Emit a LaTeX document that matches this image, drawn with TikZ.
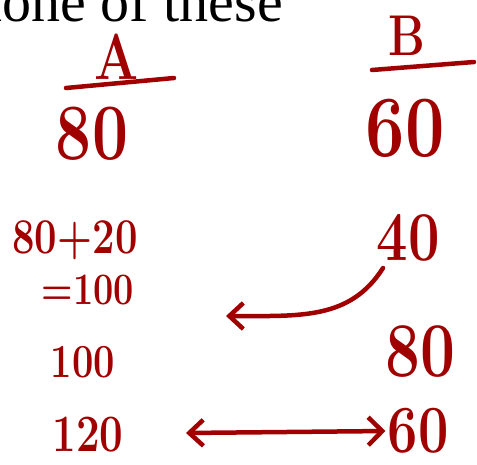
\documentclass[tikz,border=0pt]{standalone}
\usepackage{fontspec}
\newfontfamily\timesfont{Liberation Serif}
\usetikzlibrary{arrows.meta}
\definecolor{inkred}{RGB}{160,0,0}
\newcommand\tallink[1]{\scalebox{1}[1.25]{#1}}
\begin{document}
\begin{tikzpicture}[x=1pt, y=-1pt,
  hand/.style={text=inkred, inner sep=0pt, font=\bfseries\fontsize{#1}{#1}\selectfont},
  hand/.default=60,
  stroke/.style={draw=inkred, line width=4.5pt, line cap=round, line join=round},
  arr/.style={stroke, -{Straight Barb[length=14pt, width=26pt, line width=4.5pt]}},
  dblarr/.style={stroke, {Straight Barb[length=14pt, width=26pt, line width=4.5pt]}-{Straight Barb[length=14pt, width=28pt, line width=4.5pt]}}
]
  \useasboundingbox (0,0) rectangle (477,465);
  % Überschrift (oben abgeschnitten)
  \node[anchor=base east, inner sep=0pt, text depth=0pt, font=\timesfont\fontsize{58}{58}\selectfont] (title) at (283,22) {none of these};
  % Spaltenköpfe
  \node[hand=52] (colA) at (117,57) {\tallink{A}};
  \node[hand=46] (colB) at (407,36) {\tallink{B}};
  \coordinate (ulA1) at (66,88);  \coordinate (ulA2) at (174,78);
  \coordinate (ulB1) at (372,70); \coordinate (ulB2) at (474,62);
  \draw[stroke] (ulA1) -- (ulA2);
  \draw[stroke] (ulB1) -- (ulB2);
  % Werte A
  \node[hand=64] (a80)  at (92,134)  {\tallink{80}};
  \node[hand=40] (asum) at (75,240)  {\tallink{80+20}};
  \node[hand=36] (aeq)  at (88,290)  {\tallink{=100}};
  \node[hand=38] (a100) at (83,362)  {\tallink{100}};
  \node[hand=42] (a120) at (88,435)  {\tallink{120}};
  % Werte B
  \node[hand=70] (b60)  at (405,128) {\tallink{60}};
  \node[hand=56] (b40)  at (408,238) {\tallink{40}};
  \node[hand=62] (b80)  at (420,352) {\tallink{80}};
  \node[hand=54] (b60b) at (418,431) {\tallink{60}};
  % Pfeile
  \coordinate (tip) at (226,316);
  \coordinate (from) at (186,433);
  \draw[arr] (383,268) .. controls (350,320) and (300,316) .. (tip);
  \draw[dblarr, shorten >=2pt] (from) -- (b60b.west);
\end{tikzpicture}
\end{document}
